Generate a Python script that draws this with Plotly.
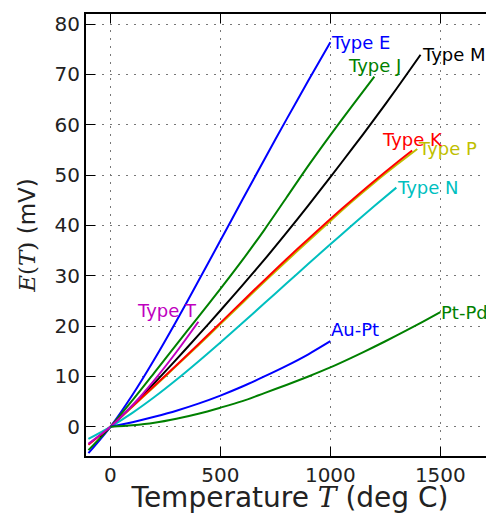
import plotly.graph_objects as go

# thermocouple EMF tables, temperature in deg C, EMF in mV
temp_e = [-100, 0, 100, 200, 300, 400, 500, 600, 700, 800, 900, 1000]
emf_e = [-5.237, 0, 6.319, 13.421, 21.036, 28.946, 37.005, 45.093, 53.112, 61.017, 68.787, 76.373]

temp_j = [-100, 0, 100, 200, 300, 400, 500, 600, 700, 800, 900, 1000, 1100, 1200]
emf_j = [-4.633, 0, 5.269, 10.779, 16.327, 21.848, 27.393, 33.102, 39.132, 45.494, 51.877, 57.953, 63.792, 69.553]

temp_m = [-50, 0, 100, 200, 300, 400, 500, 600, 700, 800, 900, 1000, 1100, 1200, 1300, 1410]
emf_m = [-2.0, 0, 4.2, 8.7, 13.4, 18.2, 23.1, 28.1, 33.2, 38.5, 44.0, 49.6, 55.3, 61.1, 67.1, 73.9]

temp_k = [-100, 0, 100, 200, 300, 400, 500, 600, 700, 800, 900, 1000, 1100, 1200, 1300, 1372]
emf_k = [-3.554, 0, 4.096, 8.138, 12.209, 16.397, 20.644, 24.905, 29.129, 33.275, 37.326, 41.276, 45.119, 48.838, 52.410, 54.886]

temp_p = [0, 100, 200, 300, 400, 500, 600, 700, 800, 900, 1000, 1100, 1200, 1300, 1395]
emf_p = [0, 4.0, 8.0, 12.1, 16.2, 20.4, 24.6, 28.8, 32.9, 36.9, 40.9, 44.8, 48.5, 52.0, 55.2]

temp_n = [-100, 0, 100, 200, 300, 400, 500, 600, 700, 800, 900, 1000, 1100, 1200, 1300]
emf_n = [-2.407, 0, 2.774, 5.913, 9.341, 12.974, 16.748, 20.613, 24.527, 28.455, 32.371, 36.256, 40.087, 43.846, 47.513]

temp_t = [-100, 0, 100, 200, 300, 400]
emf_t = [-3.379, 0, 4.279, 9.288, 14.862, 20.872]

temp_aupt = [0, 100, 200, 300, 400, 500, 600, 700, 800, 900, 1000]
emf_aupt = [0, 0.9, 2.0, 3.2, 4.6, 6.2, 8.0, 10.0, 12.1, 14.4, 17.0]

temp_ptpd = [0, 100, 200, 300, 400, 500, 600, 700, 800, 900, 1000, 1100, 1200, 1300, 1400, 1500]
emf_ptpd = [0, 0.3, 0.8, 1.6, 2.6, 3.8, 5.1, 6.7, 8.3, 10.0, 11.8, 13.8, 15.9, 18.1, 20.4, 22.8]

# name, x, y, colour, label anchor (x, y)
curves = [
    ('Type P', temp_p, emf_p, '#bfbf00', ('left', 'middle')),
    ('Type E', temp_e, emf_e, '#0000ff', ('left', 'middle')),
    ('Type J', temp_j, emf_j, '#008000', ('center', 'bottom')),
    ('Type M', temp_m, emf_m, '#000000', ('left', 'middle')),
    ('Type K', temp_k, emf_k, '#ff0000', ('center', 'bottom')),
    ('Type N', temp_n, emf_n, '#00bfbf', ('left', 'middle')),
    ('Type T', temp_t, emf_t, '#bf00bf', ('right', 'bottom')),
    ('Au-Pt', temp_aupt, emf_aupt, '#0000ff', ('left', 'bottom')),
    ('Pt-Pd', temp_ptpd, emf_ptpd, '#008000', ('left', 'middle')),
]

fig = go.Figure()
annotations = []
for name, xs, ys, col, (xa, ya) in curves:
    fig.add_trace(go.Scatter(x=xs, y=ys, mode='lines', name=name,
                             line=dict(color=col, width=2, shape='spline', smoothing=0.8)))
    annotations.append(dict(x=xs[-1], y=ys[-1], xref='x', yref='y', text=name,
                            showarrow=False, xanchor=xa, yanchor=ya,
                            borderpad=0, font=dict(color=col, size=18)))

axis_common = dict(
    showline=True, linecolor='black', linewidth=2,
    ticks='inside', ticklen=9, tickwidth=1, tickcolor='black',
    showgrid=True, gridcolor='#777', griddash='2px,6px', gridwidth=1,
    zeroline=False, automargin=False,
    tickfont=dict(size=20, color='#222'),
)

# the page body has an 8px default margin, so the figure is 8px smaller
fig.update_layout(
    width=486, height=506,
    margin=dict(l=78, r=0, t=6, b=58),
    paper_bgcolor='white', plot_bgcolor='white',
    font=dict(family='DejaVu Sans', color='#222'),
    showlegend=False,
    annotations=annotations,
    xaxis=dict(axis_common, range=[-111, 1744], tickvals=[0, 500, 1000, 1500],
               mirror='allticks',
               title=dict(text='Temperature <span style="font-family:DejaVu Serif"><i>T</i></span> (deg C)',
                          font=dict(size=28, color='#222'), standoff=4)),
    yaxis=dict(axis_common, range=[-5.8, 82.0], tickvals=[0, 10, 20, 30, 40, 50, 60, 70, 80],
               title=dict(text='<span style="font-family:DejaVu Serif"><i>E</i>(<i>T</i>)</span> (mV)',
                          font=dict(size=23, color='#222'), standoff=12)),
)

fig.write_html("out.html")
